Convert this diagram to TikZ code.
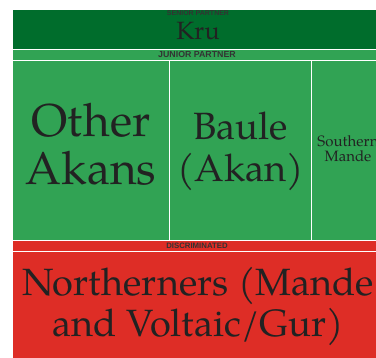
\documentclass[tikz,border=0pt]{standalone}
\usepackage{fontspec}
\setmainfont{TeX Gyre Pagella}
\newfontfamily\labelfont{Liberation Sans}
\definecolor{dgreen}{HTML}{006D2C}
\definecolor{lgreen}{HTML}{31A354}
\definecolor{dred}{HTML}{DE2D26}
\definecolor{txtc}{HTML}{222222}
\definecolor{lblc}{HTML}{333333}
\begin{document}
\begin{tikzpicture}[x=1bp,y=-1bp,
  cellbox/.style={draw=white, line width=1bp},
  bigtext/.style={text=txtc, align=center, inner sep=0pt, anchor=base},
  grouplabel/.style={text=lblc, inner sep=0pt, anchor=base}]
\useasboundingbox (0,0) rectangle (376,358);
\fill[white] (0,0) rectangle (376,358);
\begin{scope}
\clip (0,0) rectangle (376,358);
\draw[cellbox, fill=dgreen] (12,9.5) rectangle (386,49.5);
\draw[cellbox, fill=lgreen] (12,49.5) rectangle (386,60);
\draw[cellbox, fill=lgreen] (12,60) rectangle (169.5,240);
\draw[cellbox, fill=lgreen] (169.5,60) rectangle (311.5,240);
\draw[cellbox, fill=lgreen] (311.5,60) rectangle (386,240);
\draw[cellbox, fill=dred] (12,240.5) rectangle (386,251);
\draw[cellbox, fill=dred] (12,251) rectangle (386,366);
\node[grouplabel, font=\labelfont\bfseries\fontsize{7bp}{7bp}\selectfont] (senior) at (198,15.3) {SENIOR PARTNER};
\node[bigtext, font=\fontsize{25bp}{27bp}\selectfont] (kru) at (198,39.3) {Kru};
\node[grouplabel, font=\labelfont\bfseries\fontsize{8.8bp}{9bp}\selectfont] (junior) at (197,57.5) {JUNIOR PARTNER};
\node[bigtext, font=\fontsize{46bp}{47.3bp}\selectfont] (other) at (91,184) {Other\\Akans};
\node[bigtext, font=\fontsize{38bp}{42.7bp}\selectfont] (baule) at (240.5,181.7) {Baule\\(Akan)};
\node[bigtext, font=\fontsize{15bp}{15.7bp}\selectfont] (southern) at (348,161.7) {Southern\\Mande};
\node[grouplabel, font=\labelfont\bfseries\fontsize{7.8bp}{8bp}\selectfont] (discr) at (197,248.3) {DISCRIMINATED};
\node[bigtext, font=\fontsize{38bp}{41.7bp}\selectfont] (north) at (198,336.7) {Northerners (Mande\\and Voltaic/Gur)};
\end{scope}
\end{tikzpicture}
\end{document}
